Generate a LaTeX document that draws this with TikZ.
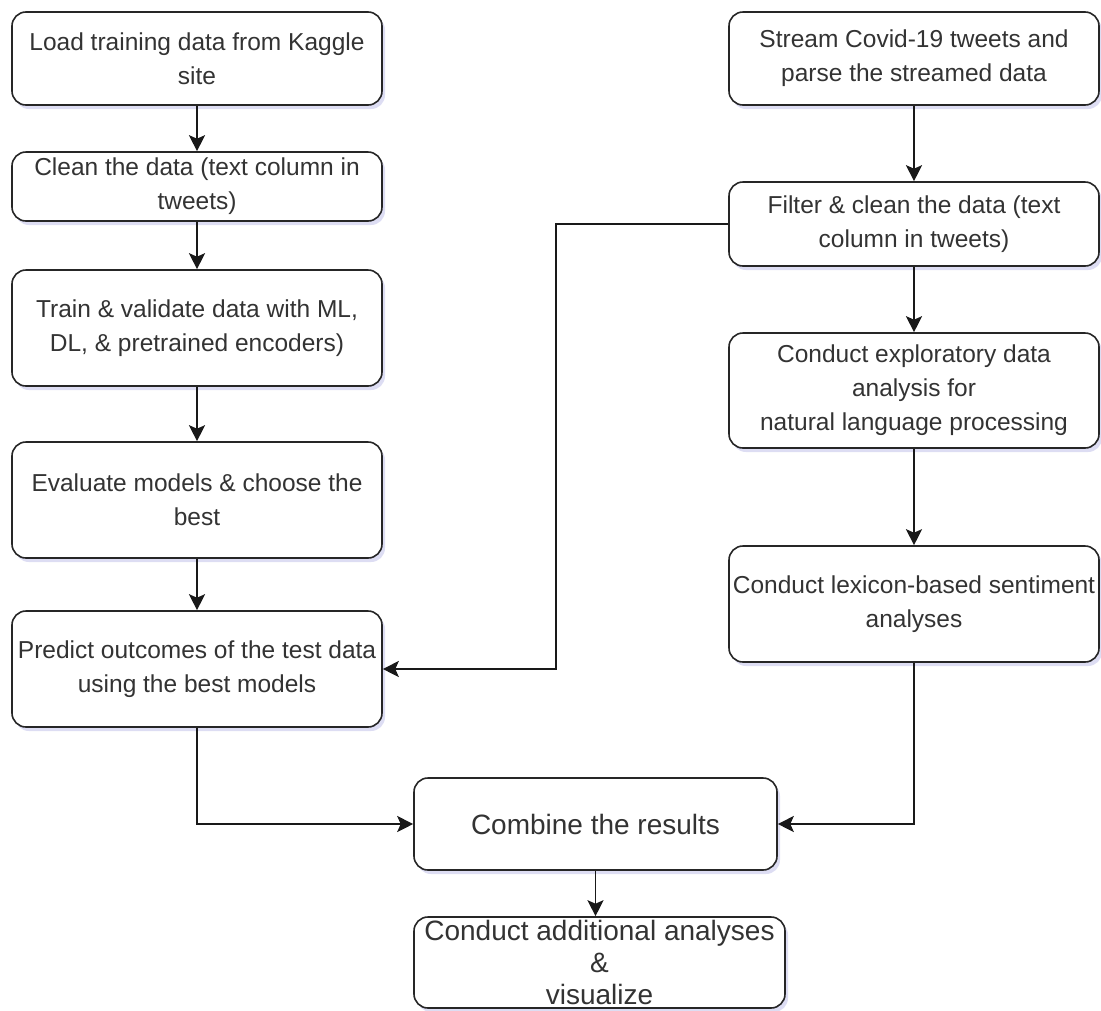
\documentclass[tikz,border=0pt]{standalone}
\usepackage{fontspec}
\setmainfont{Liberation Sans}
\usetikzlibrary{arrows.meta,shadows}
\usetikzlibrary{positioning}

\begin{document}
\begin{tikzpicture}[x=1pt,y=-1pt,
	box/.style={draw=black!85,line width=1.6pt,rounded corners=14pt,fill=white,
		align=center,text=black!80,inner sep=0pt,minimum width=370pt,
		font=\fontsize{24.5}{34}\selectfont,
		drop shadow={shadow xshift=3pt,shadow yshift=-4pt,opacity=0.18,fill=blue!50!gray}},
	flow/.style={draw=black!90,line width=1.7pt,-{Stealth[length=16pt,width=16pt,inset=3.5pt]}}]
			\useasboundingbox (0,0) rectangle (1101,1010);
			%training side
			\node[box,minimum height=93pt] (load) at (197,58.5) {Load training data from Kaggle\\site};
			\node[box,minimum height=69pt] (clean) at (197,186.5) {Clean the data (text column in\\tweets)};
			\node[box,minimum height=116pt] (train) at (197,328) {Train \& validate data with ML,\\DL, \& pretrained encoders)};
			\node[box,minimum height=116pt] (evaluate) at (197,500) {Evaluate models \& choose the\\best};
			\node[box,minimum height=116pt] (predict) at (197,669) {Predict outcomes of the test data\\using the best models};
			%streaming side
			\node[box,minimum height=93pt] (stream) at (914,58.5) {Stream Covid-19 tweets and\\parse the streamed data};
			\node[box,minimum height=84pt] (filter) at (914,224) {Filter \& clean the data (text\\column in tweets)};
			\node[box,minimum height=115pt] (explore) at (914,390.5) {Conduct exploratory data\\analysis for\\natural language processing};
			\node[box,minimum height=116pt] (lexicon) at (914,604) {Conduct lexicon-based sentiment\\analyses};
			%results
			\node[box,minimum width=363pt,minimum height=92pt,font=\fontsize{28}{34}\selectfont] (combine) at (595.5,824) {Combine the results};
			\node[box,minimum width=371pt,minimum height=91pt,inner ysep=-8pt,font=\fontsize{28}{32}\selectfont] (extra) at (599.5,962.5) {Conduct additional analyses\\\&\\visualize};
			%print arrows
			\draw[flow] (load)--(clean);
			\draw[flow] (clean)--(train);
			\draw[flow] (train)--(evaluate);
			\draw[flow] (evaluate)--(predict);
			\draw[flow] (stream)--(filter);
			\draw[flow] (filter)--(explore);
			\draw[flow] (explore)--(lexicon);
			\coordinate (bend) at (556,224);
			\draw[flow] (filter.west)--(bend)|-(predict.east);
			\draw[flow] (predict.south)|-(combine.west);
			\draw[flow] (lexicon.south)|-(combine.east);
			\draw[flow] (combine.south)--(combine.south|-extra.north);
		\end{tikzpicture}
\end{document}
